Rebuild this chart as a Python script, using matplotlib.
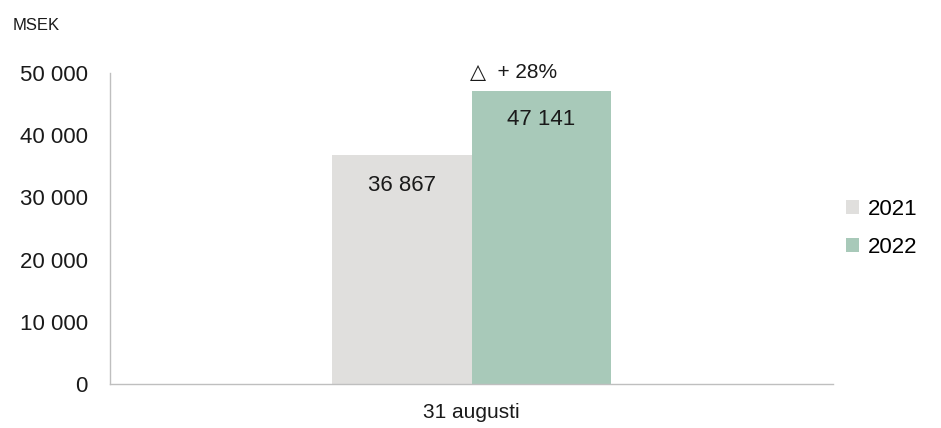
import numpy as np
import matplotlib.pyplot as plt

plt.rcParams['font.family'] = ['Liberation Sans', 'DejaVu Sans']

categories = ['31 augusti']
years = ['2021', '2022']
values_2021 = [36867]
values_2022 = [47141]
value_labels_2021 = ['36 867']
value_labels_2022 = ['47 141']
change_label = '\u25b3  + 28%'
yticks = [0, 10000, 20000, 30000, 40000, 50000]
ytick_labels = ['0', '10 000', '20 000', '30 000', '40 000', '50 000']

col_2021 = '#e0dfdd'
col_2022 = '#a8c9b9'

fig = plt.figure(figsize=(9.41, 4.28), dpi=100)
ax = fig.add_axes([110/941, 44/428, 723/941, 311/428])

x = np.arange(len(categories))
w = 0.1923
ax.bar(x - w/2, values_2021, w, color=col_2021, label=years[0])
ax.bar(x + w/2, values_2022, w, color=col_2022, label=years[1])

ax.set_xlim(-0.5, 0.5)
ax.set_ylim(0, 50000)
ax.set_yticks(yticks)
ax.set_yticklabels(ytick_labels, fontsize=16, color='#1a1a1a')
ax.set_xticks(x)
ax.set_xticklabels(categories, fontsize=15, color='#1a1a1a')
ax.tick_params(axis='both', length=0)
ax.tick_params(axis='y', pad=16)
ax.tick_params(axis='x', pad=14)

for s in ['top', 'right']:
    ax.spines[s].set_visible(False)
for s in ['left', 'bottom']:
    ax.spines[s].set_color('#bfbfbf')
    ax.spines[s].set_linewidth(1)

# labels inside bars
for xi, v, lab in zip(x, values_2021, value_labels_2021):
    ax.annotate(lab, (xi - w/2, v), xytext=(0, -22), textcoords='offset points',
                ha='center', va='center', fontsize=16, color='#1a1a1a')
for xi, v, lab in zip(x, values_2022, value_labels_2022):
    ax.annotate(lab, (xi + w/2, v), xytext=(0, -21), textcoords='offset points',
                ha='center', va='center', fontsize=16, color='#1a1a1a')
    ax.annotate(change_label, (xi + w/2, v), xytext=(-20, 13), textcoords='offset points',
                ha='center', va='center', fontsize=15, color='#1a1a1a')

fig.text(13/941, 1 - 25/428, 'MSEK', fontsize=12, ha='left', va='center', color='#1a1a1a')

ax.legend(loc='center left', bbox_to_anchor=(0.99, 0.5), frameon=False,
          fontsize=16, handlelength=0.6, handleheight=0.6, handletextpad=0.4,
          labelspacing=0.75)

fig.savefig('out.png', dpi=100)
